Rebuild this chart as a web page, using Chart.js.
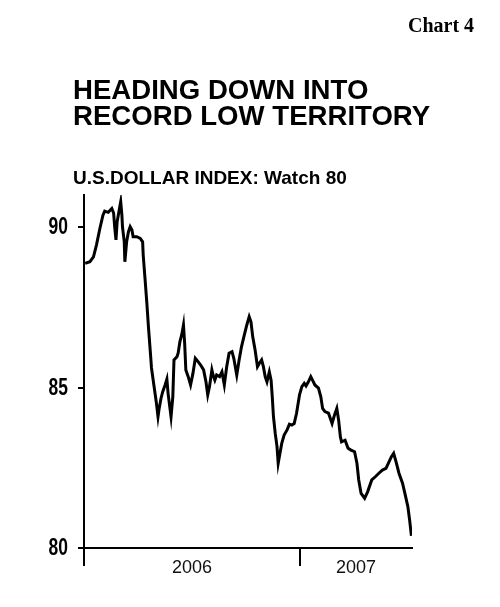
<!DOCTYPE html>
<html>
<head>
<meta charset="utf-8">
<script src="https://cdn.jsdelivr.net/npm/chart.js@4.4.1/dist/chart.umd.min.js"></script>
<style>
  html, body { margin: 0; padding: 0; background: #fff; }
  #wrap { position: relative; width: 500px; height: 607px; overflow: hidden; background: #fff; }
  #chartNo { position: absolute; left: 408px; top: 15px; font: bold 20px/20px "Liberation Serif", "Times New Roman", serif; color: #000; white-space: nowrap; }
  #title { position: absolute; left: 73px; top: 77px; font: bold 27.6px/26px "Liberation Sans", Arial, sans-serif; color: #000; white-space: nowrap; }
  #subtitle { position: absolute; left: 73px; top: 168px; font: bold 19px/20px "Liberation Sans", Arial, sans-serif; color: #000; white-space: nowrap; }
  canvas { position: absolute; left: 0; top: 0; }
</style>
</head>
<body>
<div id="wrap">
  <canvas id="c" width="500" height="607"></canvas>
  <div id="chartNo">Chart 4</div>
  <div id="title">HEADING DOWN INTO<br>RECORD LOW TERRITORY</div>
  <div id="subtitle">U.S.DOLLAR INDEX: Watch 80</div>
</div>
<script>
// Days since 1 Jan 2006
const days = [2,10,16,21,27,32,35,41,47,50,52,54,56,60,62,64,65,68,69,72,75,78,81,83,89,95,99,100,103,106,109,112,114,118,122,125,127,130,133,137,140,142,147,150,152,157,159,162,165,168,170,172,176,180,184,188,193,197,202,206,209,212,216,218,221,224,229,233,237,241,245,250,253,258,262,266,270,275,279,282,285,289,293,296,300,303,306,309,313,316,318,320,323,326,328,331,334,338,343,347,351,355,359,364,368,372,375,379,383,386,390,396,400,403,407,413,419,423,427,430,433,435,441,446,451,457,461,464,468,474,479,486,492,498,504,510,514,519,523,527,532,538,542,547,550,553];
// U.S. dollar index
const dxy = [88.87,88.92,89.07,89.44,89.97,90.37,90.50,90.46,90.58,90.44,89.97,89.60,90.17,90.59,90.79,90.37,90.01,89.54,88.92,89.54,89.85,90.01,89.91,89.70,89.70,89.65,89.54,89.13,88.41,87.67,86.85,86.12,85.61,85.08,84.56,84.09,84.35,84.66,84.87,85.08,85.26,84.82,84.09,84.71,85.86,85.96,86.07,86.43,86.64,86.95,86.38,85.55,85.34,85.08,85.44,85.91,85.80,85.70,85.55,85.18,84.77,85.03,85.55,85.39,85.23,85.39,85.34,85.49,85.08,85.65,86.07,86.12,85.91,85.39,85.86,86.27,86.58,86.95,87.21,87.05,86.58,86.17,85.65,85.75,85.86,85.65,85.34,85.18,85.49,85.23,84.71,84.09,83.57,83.16,82.64,82.95,83.26,83.52,83.68,83.86,83.83,83.88,84.20,84.77,85.03,85.13,85.05,85.18,85.34,85.23,85.08,84.98,84.71,84.35,84.25,84.20,83.88,84.14,84.35,83.99,83.47,83.31,83.36,83.11,83.05,83.00,82.64,82.12,81.70,81.55,81.75,82.12,82.22,82.33,82.43,82.48,82.64,82.84,82.95,82.69,82.33,82.02,81.70,81.29,80.87,80.38];
const yearLabels = ['2006', '2007'];
const yearStarts = [0, 365];
const periodEnd = 554;
const yTicks = [80, 85, 90];
const yMin = 80, yMax = 91;

// x ticks: year boundaries (tick marks) and year mid-points (labels)
const yearEnds = yearStarts.slice(1).concat([periodEnd]);
const xTickDefs = [];
yearStarts.forEach((s, i) => {
  xTickDefs.push({ value: s, label: '', mark: true });
  xTickDefs.push({ value: (s + yearEnds[i]) / 2, label: yearLabels[i], mark: false });
});

// Condensed bold y-axis labels, placed through the y scale
const condensedYLabels = {
  id: 'condensedYLabels',
  afterDraw(chart) {
    const s = chart.scales.y;
    const ctx = chart.ctx;
    ctx.save();
    ctx.font = 'bold 23px "Liberation Sans", Arial, sans-serif';
    ctx.fillStyle = '#000';
    ctx.textAlign = 'right';
    ctx.textBaseline = 'middle';
    s.ticks.forEach(t => {
      const y = s.getPixelForValue(t.value);
      ctx.save();
      ctx.translate(s.right - 16, y + 1);
      ctx.scale(0.76, 1);
      ctx.fillText(String(t.value), 0, 0);
      ctx.restore();
    });
    ctx.restore();
  }
};

new Chart(document.getElementById('c'), {
  type: 'line',
  data: {
    datasets: [{
      data: days.map((d, i) => ({ x: d, y: dxy[i] })),
      borderColor: '#000',
      borderWidth: 3,
      pointRadius: 0,
      tension: 0,
      fill: false
    }]
  },
  plugins: [condensedYLabels],
  options: {
    responsive: false,
    animation: false,
    layout: { padding: { left: 0, right: 88, top: 195, bottom: 19 } },
    plugins: { legend: { display: false }, tooltip: { enabled: false } },
    scales: {
      x: {
        type: 'linear',
        min: 0,
        max: periodEnd,
        afterBuildTicks: (s) => { s.ticks = xTickDefs.map(t => ({ value: t.value })); },
        afterFit: (s) => { s.height = 40; },
        border: { display: true, color: '#000', width: 2 },
        grid: {
          drawOnChartArea: false,
          drawTicks: true,
          tickLength: 18,
          lineWidth: 2,
          tickWidth: 2,
          tickColor: (ctx) => {
            const t = xTickDefs.find(d => ctx.tick && d.value === ctx.tick.value);
            return t && t.mark ? '#000' : 'rgba(0,0,0,0)';
          },
          color: 'rgba(0,0,0,0)'
        },
        ticks: {
          autoSkip: false,
          maxRotation: 0,
          padding: -9,
          color: '#111',
          font: { family: '"Liberation Sans", Arial, sans-serif', size: 18 },
          callback: (v) => {
            const t = xTickDefs.find(d => d.value === v);
            return t ? t.label : '';
          }
        }
      },
      y: {
        type: 'linear',
        min: yMin,
        max: yMax,
        afterBuildTicks: (s) => { s.ticks = yTicks.map(v => ({ value: v })); },
        afterFit: (s) => { s.width = 84; },
        border: { display: true, color: '#000', width: 2 },
        grid: {
          drawOnChartArea: false,
          drawTicks: true,
          tickLength: 6,
          lineWidth: 2,
          tickWidth: 2,
          tickColor: '#000',
          color: '#000'
        },
        ticks: {
          display: false
        }
      }
    }
  }
});
</script>
</body>
</html>
